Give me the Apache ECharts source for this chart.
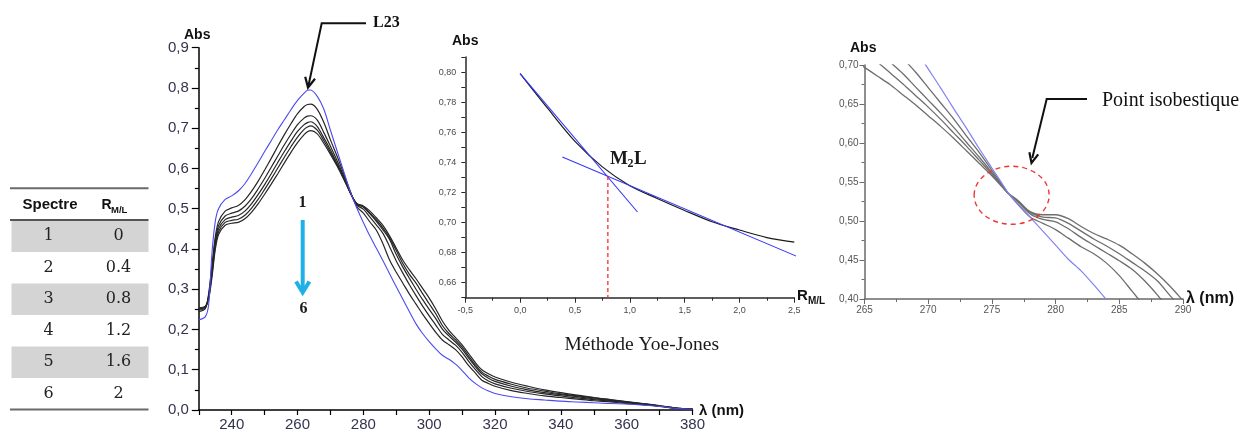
<!DOCTYPE html>
<html><head><meta charset="utf-8">
<script src="https://cdn.jsdelivr.net/npm/echarts@6/dist/echarts.min.js"></script>
<style>html,body{margin:0;padding:0;background:#fff;}#c{width:1244px;height:432px;}</style>
</head><body><div id="c"></div>
<script>
// ---------- Main UV-Vis spectra (Abs vs wavelength, nm) ----------
const wavelengths = [230,232,233,234,235,236,238,240,242,244,246,248,250,252,254,256,258,260,262,263,264,266,268,270,272,274,276,278,280,282,284,286,288,290,292,294,296,298,300,302,304,306,308,310,312,314,316,318,320,325,330,335,340,345,350,355,360,365,370,375,380];
// spectrum 1: L23 alone (blue)
const spectrum1 = [0.224,0.232,0.262,0.390,0.468,0.500,0.523,0.532,0.544,0.562,0.587,0.614,0.642,0.669,0.696,0.721,0.746,0.769,0.787,0.794,0.795,0.779,0.747,0.695,0.644,0.593,0.543,0.502,0.466,0.432,0.401,0.370,0.338,0.306,0.275,0.244,0.214,0.190,0.170,0.152,0.136,0.126,0.114,0.098,0.080,0.066,0.055,0.047,0.041,0.033,0.028,0.025,0.022,0.020,0.018,0.016,0.015,0.012,0.009,0.004,0.002];
const spectrum2 = [0.244,0.252,0.290,0.360,0.430,0.468,0.494,0.502,0.508,0.522,0.543,0.568,0.596,0.625,0.655,0.684,0.711,0.736,0.754,0.759,0.760,0.747,0.714,0.671,0.631,0.588,0.544,0.505,0.489,0.467,0.446,0.412,0.372,0.342,0.315,0.288,0.263,0.238,0.215,0.193,0.174,0.162,0.150,0.132,0.110,0.092,0.074,0.066,0.059,0.048,0.041,0.035,0.031,0.027,0.023,0.020,0.016,0.013,0.009,0.004,0.002];
const spectrum3 = [0.248,0.254,0.285,0.350,0.420,0.458,0.482,0.489,0.494,0.506,0.525,0.549,0.575,0.603,0.631,0.659,0.685,0.709,0.725,0.730,0.731,0.720,0.689,0.655,0.620,0.582,0.541,0.509,0.499,0.479,0.459,0.438,0.405,0.370,0.340,0.311,0.284,0.258,0.234,0.211,0.188,0.174,0.161,0.143,0.121,0.101,0.083,0.072,0.065,0.054,0.046,0.040,0.035,0.030,0.026,0.022,0.018,0.014,0.010,0.004,0.002];
const spectrum4 = [0.250,0.256,0.282,0.343,0.412,0.450,0.473,0.479,0.483,0.494,0.512,0.535,0.560,0.587,0.615,0.642,0.668,0.692,0.709,0.714,0.716,0.704,0.676,0.646,0.613,0.578,0.540,0.511,0.504,0.487,0.468,0.447,0.423,0.386,0.355,0.327,0.300,0.274,0.250,0.227,0.201,0.184,0.169,0.151,0.129,0.108,0.090,0.079,0.071,0.059,0.050,0.043,0.038,0.033,0.028,0.024,0.019,0.015,0.010,0.005,0.002];
const spectrum5 = [0.252,0.257,0.279,0.337,0.405,0.443,0.466,0.471,0.474,0.484,0.501,0.523,0.548,0.574,0.601,0.628,0.654,0.678,0.697,0.703,0.706,0.695,0.669,0.640,0.609,0.576,0.540,0.512,0.505,0.489,0.472,0.452,0.427,0.396,0.364,0.337,0.315,0.289,0.264,0.239,0.210,0.190,0.174,0.156,0.134,0.112,0.094,0.084,0.076,0.064,0.054,0.047,0.040,0.035,0.030,0.025,0.020,0.015,0.010,0.005,0.003];
const spectrum6 = [0.254,0.258,0.276,0.330,0.398,0.436,0.459,0.464,0.466,0.475,0.491,0.512,0.536,0.561,0.587,0.614,0.640,0.664,0.684,0.691,0.694,0.686,0.662,0.635,0.606,0.574,0.540,0.513,0.507,0.494,0.477,0.458,0.432,0.402,0.372,0.348,0.326,0.302,0.278,0.251,0.221,0.198,0.180,0.162,0.140,0.118,0.100,0.090,0.082,0.069,0.059,0.050,0.043,0.037,0.031,0.026,0.021,0.016,0.011,0.005,0.003];

// ---------- Table ----------
const tableSpectre = ['1','2','3','4','5','6'];
const tableRatio = ['0','0.4','0.8','1.2','1.6','2'];

// ---------- Yoe-Jones (mole ratio) inset ----------
const yoeRatio = [0,0.25,0.5,0.75,1.0,1.25,1.5,1.75,2.0,2.25,2.5];
const yoeAbs = [0.799,0.776,0.754,0.737,0.7245,0.716,0.708,0.7005,0.695,0.690,0.687];
const tangentSteepR = [0,1.07];
const tangentSteepAbs = [0.799,0.707];
const tangentFlatR = [0.385,2.53];
const tangentFlatAbs = [0.7435,0.6773];
const m2lRatio = 0.8;
const m2lAbs = 0.731;

// ---------- Isosbestic zoom inset ----------
const insetLambda = [264,265,266,267,268,269,270,271,272,273,274,275,276,276.3,277,278,279,280,281,282,283,284,285,286,287,288,289,290,291];
const insetGreyA = [0.708,0.697,0.686,0.675,0.662,0.649,0.635,0.621,0.606,0.590,0.574,0.558,0.540,0.535,0.527,0.512,0.508,0.508,0.503,0.493,0.484,0.477,0.469,0.458,0.446,0.432,0.416,0.398,0.380];
const insetGreyB = [0.729,0.717,0.704,0.690,0.676,0.661,0.646,0.630,0.613,0.596,0.578,0.560,0.541,0.535,0.526,0.511,0.505,0.504,0.497,0.487,0.477,0.468,0.458,0.447,0.436,0.423,0.404,0.386,0.368];
const insetGreyC = [0.748,0.734,0.719,0.704,0.689,0.672,0.655,0.638,0.620,0.601,0.582,0.562,0.541,0.535,0.525,0.509,0.502,0.499,0.490,0.479,0.469,0.459,0.449,0.438,0.423,0.405,0.385,0.365,0.345];
const insetGreyD = [0.779,0.762,0.745,0.728,0.709,0.691,0.671,0.651,0.631,0.609,0.588,0.565,0.542,0.535,0.522,0.505,0.497,0.489,0.478,0.467,0.458,0.446,0.430,0.410,0.390,0.370,0.350,0.330,0.310];
const insetBlue = [0.846,0.822,0.797,0.771,0.746,0.720,0.695,0.670,0.644,0.619,0.593,0.568,0.543,0.535,0.523,0.505,0.487,0.469,0.451,0.436,0.418,0.399,0.380,0.361,0.342,0.323,0.304,0.285,0.266];
const isosbestic = [276.55, 0.533];

// ---------------------------------------------------------------
const pairs = (xs, ys) => xs.map((x, i) => [x, ys[i]]);
const comma = d => v => v.toFixed(d).replace('.', ',');
const SANS = '"Liberation Sans", Arial, sans-serif';
const SERIF = '"Liberation Serif", "Times New Roman", serif';

const chart = echarts.init(document.getElementById('c'), null, {renderer: 'canvas', width: 1244, height: 432});

function line(xi, data, color, width, extra) {
  return Object.assign({
    type: 'line', xAxisIndex: xi, yAxisIndex: xi, data: data, showSymbol: false, symbol: 'none',
    smooth: 0.3, silent: true, lineStyle: {color: color, width: width}
  }, extra || {});
}

const blackSpectra = [spectrum2, spectrum3, spectrum4, spectrum5, spectrum6];
const series = [];
blackSpectra.forEach(s => series.push(line(0, pairs(wavelengths, s), '#262626', 1.2)));
series.push(line(0, pairs(wavelengths, spectrum1), '#4b4bf0', 1.1));

// Yoe-Jones
series.push(line(1, pairs(yoeRatio, yoeAbs), '#1a1a1a', 1.2));
series.push(line(1, pairs(tangentSteepR, tangentSteepAbs), '#3535ff', 1.1, {smooth: false}));
series.push(line(1, pairs(tangentFlatR, tangentFlatAbs), '#3535ff', 1.1, {smooth: false, clip: false}));
series.push(line(1, [[m2lRatio, m2lAbs], [m2lRatio, 0.65]], '#ff2a2a', 1.3, {smooth: false, lineStyle: {color: '#ff2a2a', width: 1.3, type: [4, 3]}}));

// Isosbestic zoom
[insetGreyA, insetGreyB, insetGreyC, insetGreyD].forEach(s => series.push(line(2, pairs(insetLambda, s), '#6e6e6e', 1.3)));
series.push(line(2, pairs(insetLambda, insetBlue), '#8282f4', 1.2));

function axisBase(color, w) {
  return {show: true, onZero: false, lineStyle: {color: color, width: w}};
}

const option = {
  animation: false,
  backgroundColor: '#ffffff',
  grid: [
    {left: 198.8, top: 47.7, width: 493.7, height: 362.3, outerBoundsMode: 'none', containLabel: false},
    {left: 465.3, top: 57.1, width: 329, height: 240.6, outerBoundsMode: 'none', containLabel: false},
    {left: 864.5, top: 65, width: 318.5, height: 234, outerBoundsMode: 'none', containLabel: false}
  ],
  xAxis: [
    {type: 'value', gridIndex: 0, min: 230, max: 380, interval: 10,
     axisLine: axisBase('#000', 1.5), axisTick: {show: true, length: 5, lineStyle: {color: '#000', width: 1.2}},
     axisLabel: {margin: 7, fontSize: 15, fontFamily: SANS, color: '#33334d', formatter: v => (v % 20 === 0 ? String(v) : '')},
     splitLine: {show: false}},
    {type: 'value', gridIndex: 1, min: -0.5, max: 2.5, interval: 0.5,
     axisLine: axisBase('#2a2a2a', 1.5), axisTick: {show: true, length: 5, lineStyle: {color: '#2a2a2a'}},
     minorTick: {show: true, splitNumber: 2, length: 3, lineStyle: {color: '#2a2a2a'}},
     axisLabel: {margin: 8, fontSize: 9, fontFamily: SANS, color: '#4a4a4a', formatter: comma(1)},
     splitLine: {show: false}, minorSplitLine: {show: false}},
    {type: 'value', gridIndex: 2, min: 265, max: 290, interval: 5,
     axisLine: axisBase('#6a6a6a', 1.5), axisTick: {show: true, length: 5, lineStyle: {color: '#6a6a6a'}},
     minorTick: {show: true, splitNumber: 2, length: 3, lineStyle: {color: '#6a6a6a'}},
     axisLabel: {margin: 6, fontSize: 10, fontFamily: SANS, color: '#555', formatter: v => String(Math.round(v))},
     splitLine: {show: false}, minorSplitLine: {show: false}}
  ],
  yAxis: [
    {type: 'value', gridIndex: 0, min: 0, max: 0.9, interval: 0.1,
     axisLine: axisBase('#000', 1.5), axisTick: {show: true, length: 7, lineStyle: {color: '#000', width: 1.2}},
     minorTick: {show: true, splitNumber: 2, length: 4, lineStyle: {color: '#000', width: 1.2}},
     axisLabel: {margin: 10, fontSize: 15, fontFamily: SANS, color: '#33334d', formatter: comma(1)},
     splitLine: {show: false}, minorSplitLine: {show: false}},
    {type: 'value', gridIndex: 1, min: 0.65, max: 0.81, interval: 0.01,
     axisLine: axisBase('#2a2a2a', 1.5), axisTick: {show: true, length: 4, lineStyle: {color: '#2a2a2a'}},
     axisLabel: {margin: 9, fontSize: 9, fontFamily: SANS, color: '#4a4a4a',
                 formatter: v => (Math.round(v * 100) % 2 === 0 ? v.toFixed(2).replace('.', ',') : '')},
     splitLine: {show: false}},
    {type: 'value', gridIndex: 2, min: 0.4, max: 0.7, interval: 0.05,
     axisLine: axisBase('#6a6a6a', 1.5), axisTick: {show: true, length: 5, lineStyle: {color: '#6a6a6a'}},
     minorTick: {show: true, splitNumber: 2, length: 3, lineStyle: {color: '#6a6a6a'}},
     axisLabel: {margin: 6, fontSize: 10, fontFamily: SANS, color: '#555', formatter: comma(2)},
     splitLine: {show: false}, minorSplitLine: {show: false}}
  ],
  series: series
};
chart.setOption(option);

// ---------- annotations ----------
function txt(text, x, y, font, color, align, vAlign) {
  return {type: 'text', z: 100, silent: true,
          style: {text: text, x: x, y: y, font: font, fill: color || '#111',
                  align: align || 'left', verticalAlign: vAlign || 'middle',
                  textAlign: align || 'left', textVerticalAlign: vAlign || 'middle'}};
}
function poly(points, color, width, dash) {
  return {type: 'polyline', z: 100, silent: true, shape: {points: points},
          style: {stroke: color, lineWidth: width, fill: null, lineDash: dash || null, lineJoin: 'miter'}};
}
const g = [];
// table
const rowH = 31.5, rowTop0 = 220.5;
tableSpectre.forEach((s, i) => {
  const top = rowTop0 + i * rowH;
  if (i % 2 === 0) g.push({type: 'rect', z: 90, silent: true, shape: {x: 11.5, y: top, width: 137, height: rowH}, style: {fill: '#d4d4d4'}});
  g.push(txt(s, 48.5, top + rowH / 2, '16px "DejaVu Serif", serif', '#222', 'center'));
  g.push(txt(tableRatio[i], 118.5, top + rowH / 2, '16px "DejaVu Serif", serif', '#222', 'center'));
});
g.push(poly([[10, 188.3], [148.5, 188.3]], '#6a6a6a', 2));
g.push(poly([[10, 220], [148.5, 220]], '#555', 2));
g.push(poly([[10, 409.5], [148.5, 409.5]], '#6a6a6a', 2));
g.push(txt('Spectre', 50, 205, 'bold 15px ' + SANS, '#111', 'center'));
g.push(txt('R', 101.5, 205, 'bold 14px ' + SANS, '#111'));
g.push(txt('M/L', 111, 210.5, 'bold 9.5px ' + SANS, '#111'));

// axis titles
g.push(txt('Abs', 184, 35, 'bold 14px ' + SANS, '#111'));
g.push(txt('λ (nm)', 699, 411, 'bold 15px ' + SANS, '#111'));
g.push(txt('Abs', 452, 41, 'bold 14px ' + SANS, '#111'));
g.push(txt('R', 797, 296, 'bold 15px ' + SANS, '#111'));
g.push(txt('M/L', 808, 301.5, 'bold 10px ' + SANS, '#111'));
g.push(txt('Abs', 850, 48, 'bold 14px ' + SANS, '#111'));
g.push(txt('λ (nm)', 1186, 299, 'bold 16px ' + SANS, '#111'));

// L23 arrow
g.push(txt('L23', 373, 23, 'bold 16px ' + SERIF, '#111'));
g.push(poly([[366, 23.3], [321.7, 23.3], [308.6, 85]], '#111', 2));
g.push(poly([[315, 78.7], [308, 87.5], [305.2, 76.7]], '#111', 2.2));

// 1 -> 6 blue arrow
g.push(txt('1', 302.5, 203, 'bold 16px ' + SERIF, '#1a1a1a', 'center'));
g.push(txt('6', 303.5, 309, 'bold 16px ' + SERIF, '#1a1a1a', 'center'));
g.push(poly([[302.7, 220], [302.7, 291]], '#1fb0e8', 4));
g.push(poly([[296, 281.5], [302.7, 292.5], [309.4, 281.5]], '#1fb0e8', 4));

// M2L label
g.push(txt('M', 610, 159, 'bold 19px ' + SERIF, '#1a1a1a'));
g.push(txt('2', 627.6, 164, 'bold 12px ' + SERIF, '#1a1a1a'));
g.push(txt('L', 634, 159, 'bold 19px ' + SERIF, '#1a1a1a'));
g.push(txt('Méthode Yoe-Jones', 641.7, 345, '19.5px ' + SERIF, '#1a1a1a', 'center'));

// isosbestic annotation
g.push(txt('Point isobestique', 1102, 101, '20px ' + SERIF, '#111'));
g.push(poly([[1087, 99], [1046.7, 99], [1032.3, 158]], '#111', 2));
g.push(poly([[1038.2, 154.3], [1031.5, 163], [1029.4, 152.2]], '#111', 2.2));
const c = chart.convertToPixel({xAxisIndex: 2, yAxisIndex: 2}, isosbestic);
g.push({type: 'ellipse', z: 100, silent: true, shape: {cx: c[0], cy: c[1], rx: 37.5, ry: 29},
        style: {fill: null, stroke: '#ee3535', lineWidth: 1.4, lineDash: [5, 4]}});

chart.setOption({graphic: g});
</script>
</body></html>
